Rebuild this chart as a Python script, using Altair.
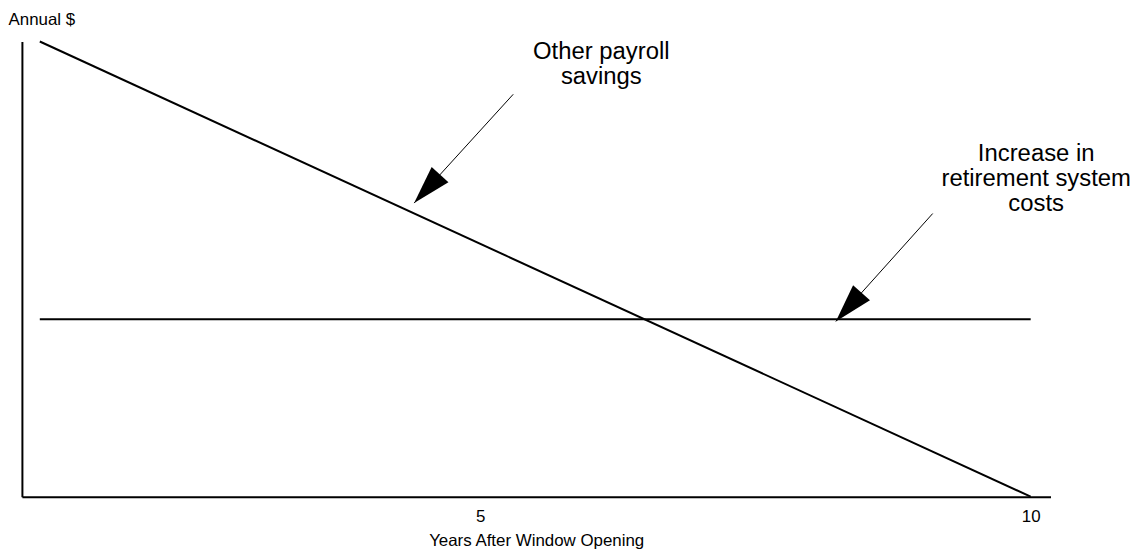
import math
import altair as alt
import pandas as pd

# ---- data ----
years = [1, 10]
other_payroll_savings = [10.0, 0.0]
retirement_costs = [3.9, 3.9]

x_tick_values = [5, 10]

# annotation arrows (data coordinates)
arrow_tail_x = [5.30, 9.11]
arrow_tail_y = [8.84, 6.22]
arrow_tip_x = [4.40, 8.23]
arrow_tip_y = [6.45, 3.85]

# annotation labels
label_text = [["Other payroll", "savings"], ["Increase in", "retirement system", "costs"]]
label_x = [6.10, 10.05]
label_y = [9.61, 7.37]

# ---- layout / style ----
X_DOMAIN = [0.8375, 10.18]
Y_DOMAIN = [0, 10]
W, H = 1035, 458
FONT = "Liberation Sans"

lines_df = pd.DataFrame({
    "year": years + years,
    "value": other_payroll_savings + retirement_costs,
    "series": ["Other payroll savings"] * len(years) + ["Increase in retirement system costs"] * len(years),
})

sx = W / (X_DOMAIN[1] - X_DOMAIN[0])
sy = H / (Y_DOMAIN[1] - Y_DOMAIN[0])
angles = []
for tx, ty, hx, hy in zip(arrow_tail_x, arrow_tail_y, arrow_tip_x, arrow_tip_y):
    dx = (hx - tx) * sx
    dy = -(hy - ty) * sy
    n = math.hypot(dx, dy)
    ux, uy = dx / n, dy / n
    angles.append(math.degrees(math.atan2(ux, -uy)) % 360)

arrows_df = pd.DataFrame({
    "x": arrow_tail_x, "y": arrow_tail_y,
    "x2": arrow_tip_x, "y2": arrow_tip_y,
    "angle": angles,
})
labels_df = pd.DataFrame({"x": label_x, "y": label_y, "text": label_text})

xs = alt.Scale(domain=X_DOMAIN, nice=False, zero=False)
ys = alt.Scale(domain=Y_DOMAIN, nice=False, zero=False)

x_axis = alt.Axis(
    values=x_tick_values, format="d", grid=False, ticks=False, tickSize=0,
    domainColor="black", domainWidth=2, labelColor="black",
    labelFontSize=17, labelFont=FONT, labelPadding=12,
    title="Years After Window Opening", titleFont=FONT, titleFontSize=17,
    titleFontWeight="normal", titleColor="black",
    titleBaseline="alphabetic", titleY=49,
)
y_axis = alt.Axis(
    labels=False, ticks=False, grid=False, domainColor="black", domainWidth=2,
    title="Annual $", titleFont=FONT, titleFontSize=17, titleFontWeight="normal",
    titleColor="black", titleAngle=0, titleAlign="left", titleBaseline="alphabetic",
    titleX=-14, titleY=-17,
)

lines = alt.Chart(lines_df).mark_line(color="black", strokeWidth=2).encode(
    x=alt.X("year:Q", scale=xs, axis=x_axis),
    y=alt.Y("value:Q", scale=ys, axis=y_axis),
    detail="series:N",
)

shafts = alt.Chart(arrows_df).mark_rule(color="black", strokeWidth=1).encode(
    x=alt.X("x:Q", scale=xs),
    y=alt.Y("y:Q", scale=ys),
    x2="x2:Q",
    y2="y2:Q",
)

heads = alt.Chart(arrows_df).mark_point(
    shape="M0,0L0.59,2L-0.59,2Z", size=1500, filled=True, color="black", opacity=1
).encode(
    x=alt.X("x2:Q", scale=xs),
    y=alt.Y("y2:Q", scale=ys),
    angle=alt.Angle("angle:Q", scale=None),
)

labels = alt.Chart(labels_df).mark_text(
    font=FONT, fontSize=24, lineHeight=25, align="center", baseline="alphabetic", color="black"
).encode(
    x=alt.X("x:Q", scale=xs),
    y=alt.Y("y:Q", scale=ys),
    text="text",
)

chart = alt.layer(lines, shafts, heads, labels).properties(
    width=W, height=H,
    autosize=alt.AutoSizeParams(type="none"),
    padding={"left": 14, "top": 32, "right": 80, "bottom": 56},
).configure_view(stroke=None)

chart.save("out.html", embed_options={"renderer": "svg", "actions": False})
